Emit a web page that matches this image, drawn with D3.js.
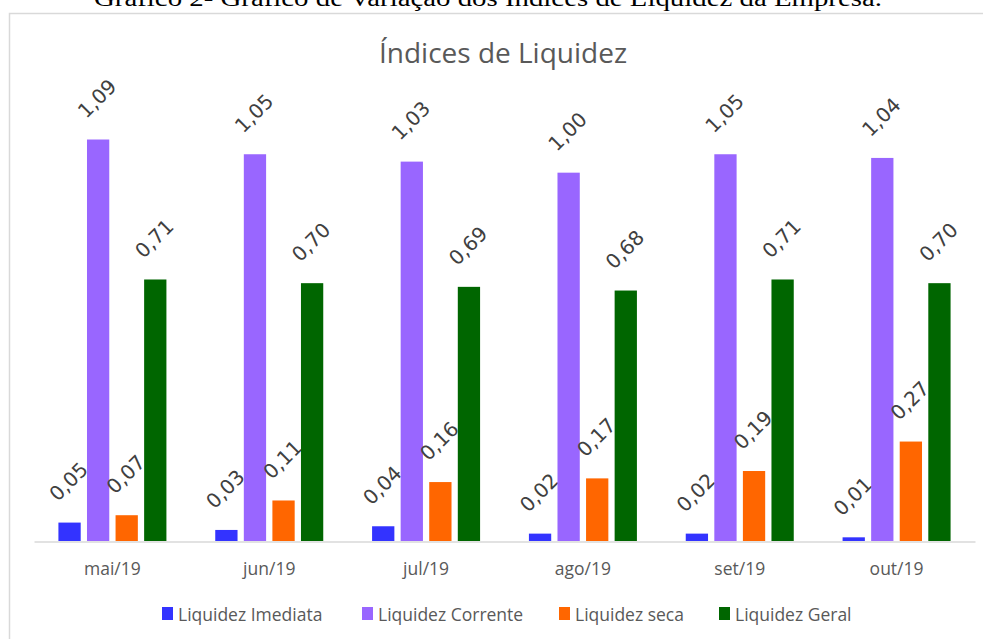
<!DOCTYPE html>
<html><head><meta charset="utf-8">
<script src="https://cdn.jsdelivr.net/npm/d3@7"></script>
<style>html,body{margin:0;padding:0;background:#fff;overflow:hidden}</style>
</head><body>
<svg id="chart" width="983" height="639"></svg>
<script>
const categories = ["mai/19","jun/19","jul/19","ago/19","set/19","out/19"];
const seriesNames = ["Liquidez Imediata","Liquidez Corrente","Liquidez seca","Liquidez Geral"];
const imediata = [0.05,0.03,0.04,0.02,0.02,0.01];
const corrente = [1.09,1.05,1.03,1.00,1.05,1.04];
const seca = [0.07,0.11,0.16,0.17,0.19,0.27];
const geral = [0.71,0.70,0.69,0.68,0.71,0.70];
const colors = ["#3333ff","#9966ff","#ff6600","#006600"];
const title = "Índices de Liquidez";
const caption = "Gráfico 2- Gráfico de Variação dos Índices de Liquidez da Empresa.";

const series = [imediata, corrente, seca, geral];
const svg = d3.select("#chart");
const fontSans = "'Open Sans', 'Noto Sans', sans-serif";

// caption (cut at top, as in the reference)
svg.append("text").attr("x", 488).attr("y", 6).attr("text-anchor","middle")
  .attr("font-family","'Liberation Serif', 'DejaVu Serif', serif").attr("font-size",24)
  .attr("textLength",788).attr("lengthAdjust","spacingAndGlyphs")
  .attr("fill","#000").text(caption);

// frame
svg.append("rect").attr("x",9.5).attr("y",13.5).attr("width",1000).attr("height",700)
  .attr("fill","none").attr("stroke","#d9d9d9").attr("stroke-width",1.5);

// title
svg.append("text").attr("x",503).attr("y",63).attr("text-anchor","middle")
  .attr("font-family",fontSans).attr("font-size",28).attr("fill","#595959").text(title);

const x0 = d3.scaleBand().domain(categories).range([34,975]).padding(0);
const x1 = d3.scaleBand().domain(d3.range(series.length))
  .range([0,108]).paddingInner(0.22).paddingOuter(0);
const y = d3.scaleLinear().domain([0,1.2]).range([541,99]);

const groups = svg.selectAll("g.cat").data(categories).enter().append("g")
  .attr("transform", d => `translate(${x0(d) + x0.bandwidth()/2 - 54},0)`);

series.forEach((vals, si) => {
  groups.append("rect")
    .attr("x", (d,i) => x1(si))
    .attr("y", (d,i) => y(vals[i]))
    .attr("width", x1.bandwidth())
    .attr("height", (d,i) => y(0) - y(vals[i]))
    .attr("fill", colors[si]);
  groups.append("text")
    .attr("transform", (d,i) => `translate(${x1(si) + x1.bandwidth()/2 - 1},${y(vals[i]) - 41}) rotate(-45)`)
    .attr("text-anchor","middle").attr("dominant-baseline","central")
    .attr("font-family","'DejaVu Sans', sans-serif").attr("font-size",20).attr("fill","#404040")
    .text((d,i) => d3.format(".2f")(vals[i]).replace(".", ","));
});

// axis
const axis = d3.axisBottom(x0).tickSize(0).tickPadding(21);
const ag = svg.append("g").attr("transform","translate(0,541.5)").call(axis);
ag.select(".domain").attr("stroke","#d9d9d9").attr("stroke-width",1.5);
ag.selectAll("text").attr("font-family",fontSans).attr("font-size",17.5).attr("fill","#595959");

// legend
const legendX = [162, 362, 559, 719];
seriesNames.forEach((n, i) => {
  svg.append("rect").attr("x",legendX[i]).attr("y",607).attr("width",11).attr("height",13).attr("fill",colors[i]);
  svg.append("text").attr("x",legendX[i]+16).attr("y",621)
    .attr("font-family",fontSans).attr("font-size",17.5).attr("fill","#595959").text(n);
});
</script>
</body></html>
